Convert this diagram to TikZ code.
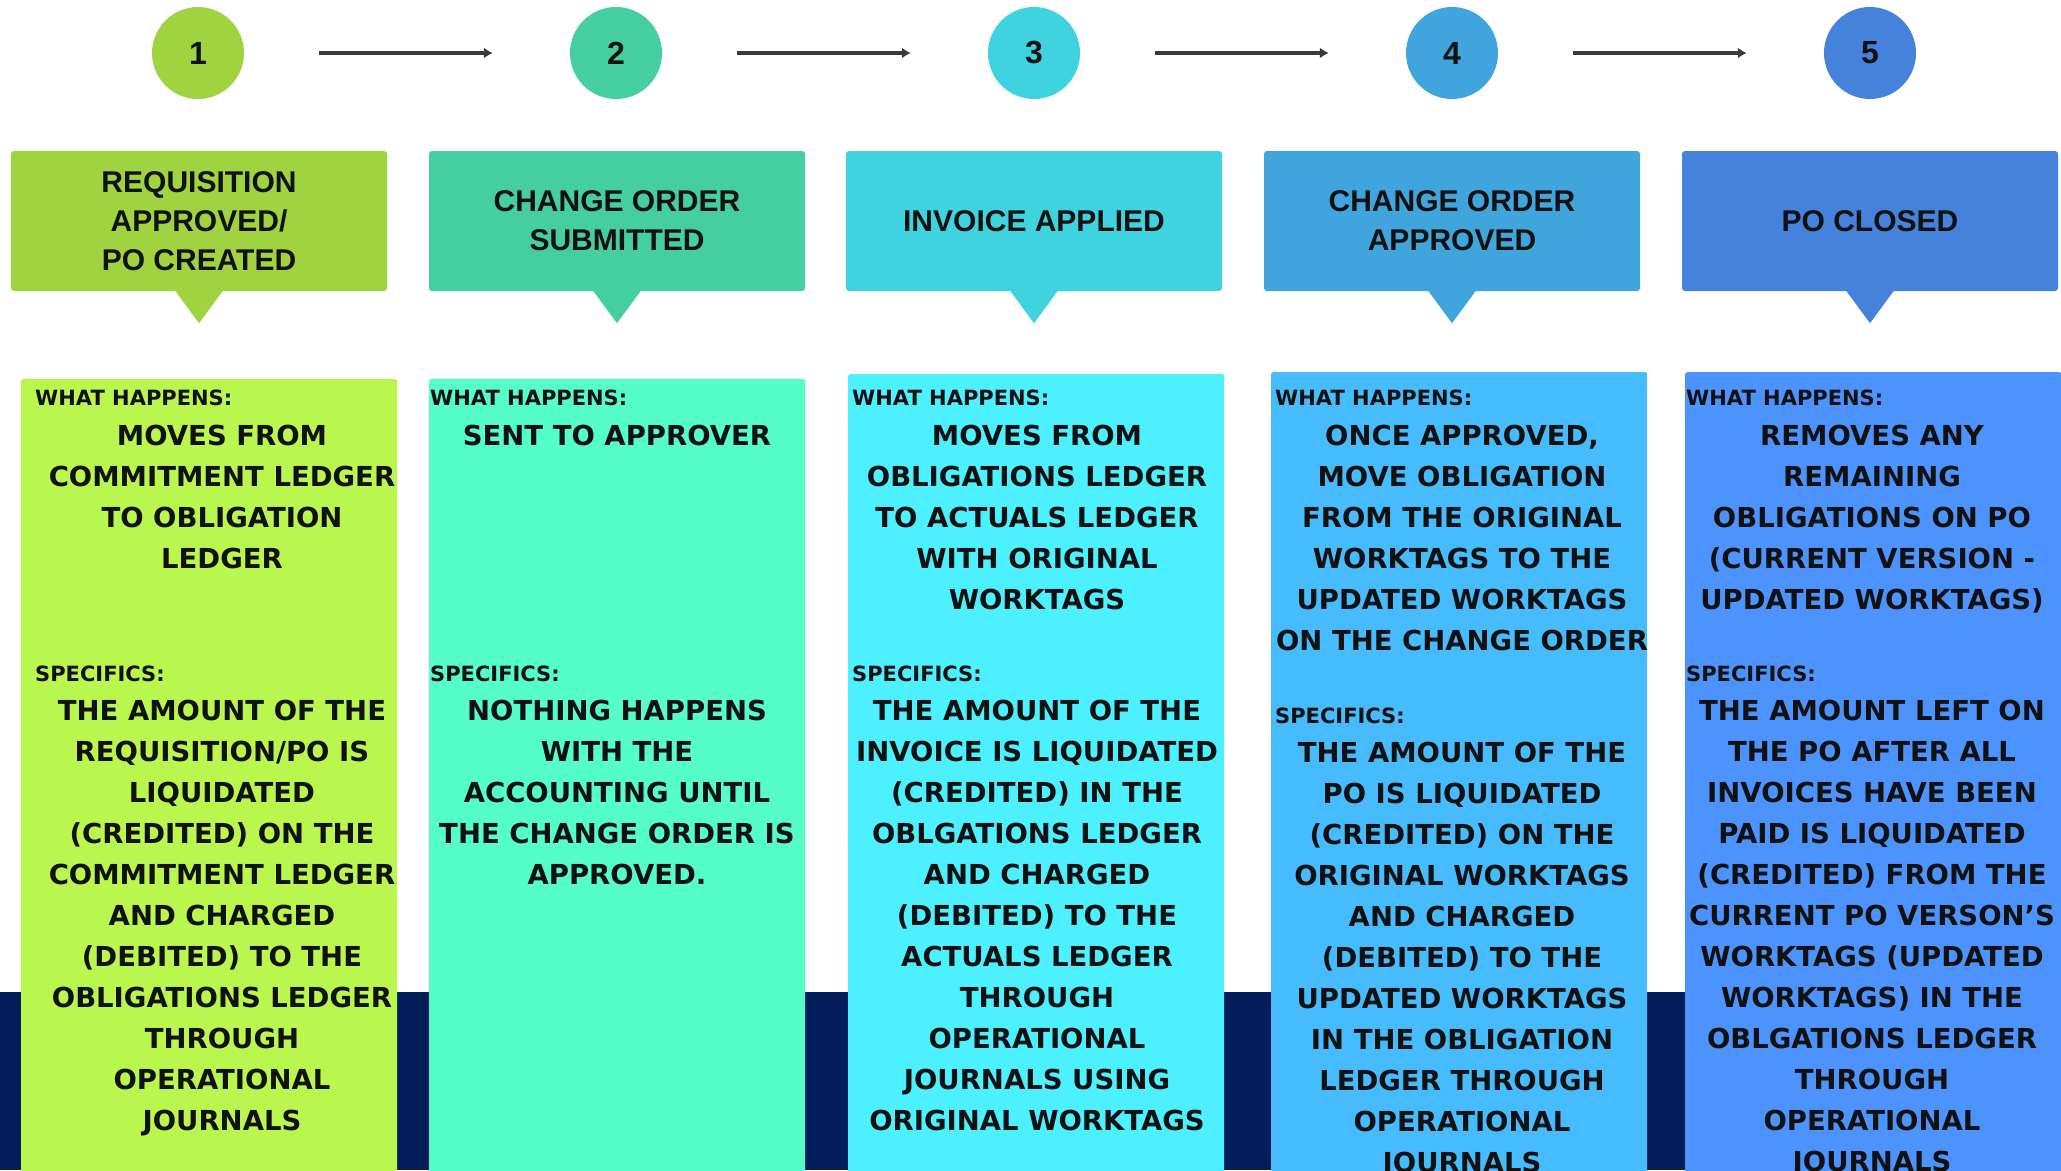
\documentclass[tikz,border=0pt]{standalone}
\usepackage{fontspec}
\setmainfont{DejaVu Sans}
\newfontfamily\headfont{Liberation Sans}
\usetikzlibrary{arrows.meta,positioning}

\definecolor{ink}{HTML}{111111}
\definecolor{arrowgray}{HTML}{3A3A3A}
\definecolor{navy}{HTML}{031E5A}
\definecolor{hdA}{HTML}{9FD340}
\definecolor{hdB}{HTML}{45CFA0}
\definecolor{hdC}{HTML}{3FD3E0}
\definecolor{hdD}{HTML}{41A5DD}
\definecolor{hdE}{HTML}{4482DC}
\definecolor{laneA}{HTML}{B9F64E}
\definecolor{laneB}{HTML}{55FEC9}
\definecolor{laneC}{HTML}{4CF0FE}
\definecolor{laneD}{HTML}{46BBFE}
\definecolor{laneE}{HTML}{4C93FE}

\begin{document}
\begin{tikzpicture}[x=1pt,y=-1pt,every node/.style={align=center,text=ink},
	num/.style={circle,minimum size=92pt,inner sep=0pt,font=\headfont\bfseries\fontsize{32}{32}\selectfont},
	stage/.style={rectangle,rounded corners=3pt,minimum width=376pt,minimum height=140pt,inner sep=0pt,font=\headfont\bfseries\fontsize{30}{39}\selectfont},
	lane/.style={rectangle,rounded corners=2pt,anchor=north west,minimum width=376pt,minimum height=820pt,inner sep=0pt},
	tag/.style={anchor=base west,inner sep=0pt,font=\bfseries\fontsize{21}{21}\selectfont},
	body/.style={anchor=north,inner sep=0pt,font=\bfseries\fontsize{27.5}{41}\selectfont},
	flow/.style={draw=arrowgray,line width=3.5pt,-{Latex[length=9pt,width=11pt]},shorten <=75pt,shorten >=77pt}]
	\useasboundingbox (0,0) rectangle (2061,1170);
	\fill[white] (0,0) rectangle (2061,1170);
	\fill[navy] (0,992) rectangle (2061,1170);

	% numbered steps
	\node[num,fill=hdA] (num1) at (198,53) {1};
	\node[num,fill=hdB] (num2) at (616,53) {2};
	\node[num,fill=hdC] (num3) at (1034,53) {3};
	\node[num,fill=hdD] (num4) at (1452,53) {4};
	\node[num,fill=hdE] (num5) at (1870,53) {5};
	\draw[flow] (num1) -- (num2);
	\draw[flow] (num2) -- (num3);
	\draw[flow] (num3) -- (num4);
	\draw[flow] (num4) -- (num5);

	% stage headers
	\node[stage,fill=hdA] (stage1) at (199,221) {REQUISITION\\APPROVED/\\PO CREATED};
	\node[stage,fill=hdB] (stage2) at (617,221) {CHANGE ORDER\\SUBMITTED};
	\node[stage,fill=hdC] (stage3) at (1034,221) {INVOICE APPLIED};
	\node[stage,fill=hdD] (stage4) at (1452,221) {CHANGE ORDER\\APPROVED};
	\node[stage,fill=hdE] (stage5) at (1870,221) {PO CLOSED};
	\fill[hdA] ([xshift=-25pt,yshift=2pt]stage1.south) -- ([xshift=25pt,yshift=2pt]stage1.south) -- ([yshift=-32pt]stage1.south) -- cycle;
	\fill[hdB] ([xshift=-25pt,yshift=2pt]stage2.south) -- ([xshift=25pt,yshift=2pt]stage2.south) -- ([yshift=-32pt]stage2.south) -- cycle;
	\fill[hdC] ([xshift=-25pt,yshift=2pt]stage3.south) -- ([xshift=25pt,yshift=2pt]stage3.south) -- ([yshift=-32pt]stage3.south) -- cycle;
	\fill[hdD] ([xshift=-25pt,yshift=2pt]stage4.south) -- ([xshift=25pt,yshift=2pt]stage4.south) -- ([yshift=-32pt]stage4.south) -- cycle;
	\fill[hdE] ([xshift=-25pt,yshift=2pt]stage5.south) -- ([xshift=25pt,yshift=2pt]stage5.south) -- ([yshift=-32pt]stage5.south) -- cycle;

	% lanes
	\node[lane,fill=laneA] (lane1) at (21,379) {};
	\node[lane,fill=laneB] (lane2) at (429,379) {};
	\node[lane,fill=laneC] (lane3) at (848,374) {};
	\node[lane,fill=laneD] (lane4) at (1271,372) {};
	\node[lane,fill=laneE] (lane5) at (1685,372) {};

	% lane 1
	\node[tag] (what1) at (35,405) {WHAT HAPPENS:};
	\node[body] (does1) at (222,425) {MOVES FROM\\COMMITMENT LEDGER\\TO OBLIGATION\\LEDGER};
	\node[tag] (spec1) at (35,681) {SPECIFICS:};
	\node[body] (detail1) at (222,700) {THE AMOUNT OF THE\\REQUISITION/PO IS\\LIQUIDATED\\(CREDITED) ON THE\\COMMITMENT LEDGER\\AND CHARGED\\(DEBITED) TO THE\\OBLIGATIONS LEDGER\\THROUGH\\OPERATIONAL\\JOURNALS};

	% lane 2
	\node[tag] (what2) at (430,405) {WHAT HAPPENS:};
	\node[body] (does2) at (617,425) {SENT TO APPROVER};
	\node[tag] (spec2) at (430,681) {SPECIFICS:};
	\node[body] (detail2) at (617,700) {NOTHING HAPPENS\\WITH THE\\ACCOUNTING UNTIL\\THE CHANGE ORDER IS\\APPROVED.};

	% lane 3
	\node[tag] (what3) at (852,405) {WHAT HAPPENS:};
	\node[body] (does3) at (1037,425) {MOVES FROM\\OBLIGATIONS LEDGER\\TO ACTUALS LEDGER\\WITH ORIGINAL\\WORKTAGS};
	\node[tag] (spec3) at (852,681) {SPECIFICS:};
	\node[body] (detail3) at (1037,700) {THE AMOUNT OF THE\\INVOICE IS LIQUIDATED\\(CREDITED) IN THE\\OBLGATIONS LEDGER\\AND CHARGED\\(DEBITED) TO THE\\ACTUALS LEDGER\\THROUGH\\OPERATIONAL\\JOURNALS USING\\ORIGINAL WORKTAGS};

	% lane 4
	\node[tag] (what4) at (1275,405) {WHAT HAPPENS:};
	\node[body] (does4) at (1462,425) {ONCE APPROVED,\\MOVE OBLIGATION\\FROM THE ORIGINAL\\WORKTAGS TO THE\\UPDATED WORKTAGS\\ON THE CHANGE ORDER};
	\node[tag] (spec4) at (1275,723) {SPECIFICS:};
	\node[body] (detail4) at (1462,742) {THE AMOUNT OF THE\\PO IS LIQUIDATED\\(CREDITED) ON THE\\ORIGINAL WORKTAGS\\AND CHARGED\\(DEBITED) TO THE\\UPDATED WORKTAGS\\IN THE OBLIGATION\\LEDGER THROUGH\\OPERATIONAL\\JOURNALS};

	% lane 5
	\node[tag] (what5) at (1686,405) {WHAT HAPPENS:};
	\node[body] (does5) at (1872,425) {REMOVES ANY\\REMAINING\\OBLIGATIONS ON PO\\(CURRENT VERSION -\\UPDATED WORKTAGS)};
	\node[tag] (spec5) at (1686,681) {SPECIFICS:};
	\node[body] (detail5) at (1872,700) {THE AMOUNT LEFT ON\\THE PO AFTER ALL\\INVOICES HAVE BEEN\\PAID IS LIQUIDATED\\(CREDITED) FROM THE\\CURRENT PO VERSON’S\\WORKTAGS (UPDATED\\WORKTAGS) IN THE\\OBLGATIONS LEDGER\\THROUGH\\OPERATIONAL\\JOURNALS};
\end{tikzpicture}
\end{document}
